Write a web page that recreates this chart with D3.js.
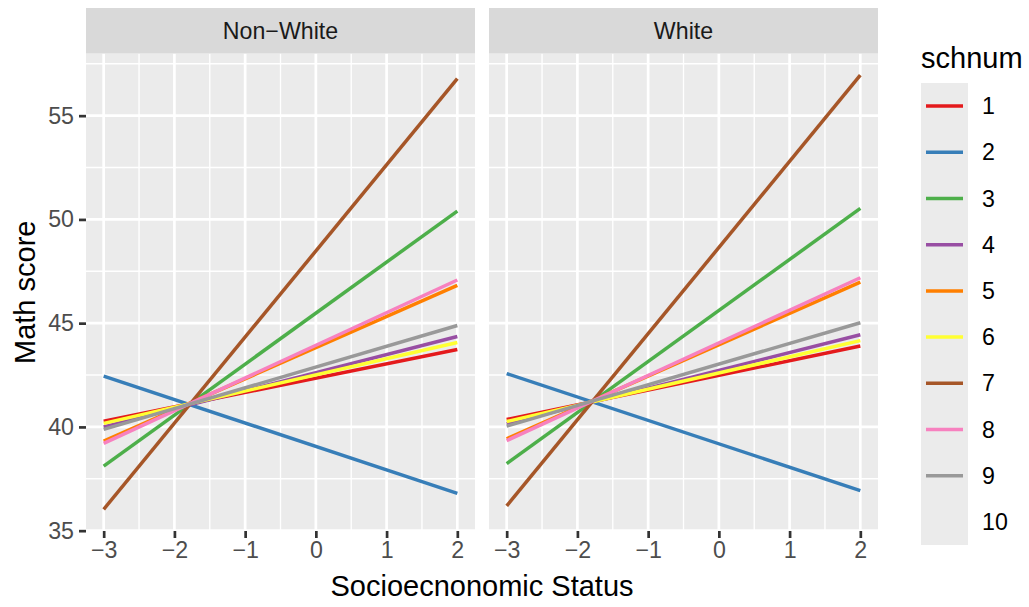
<!DOCTYPE html>
<html>
<meta charset="utf-8">
<title>Math score by SES</title>
<head>
  <script src="https://cdnjs.cloudflare.com/ajax/libs/d3/7.8.5/d3.min.js"></script>
  <style>
    body { margin: 0; background: #fff; }
    text { font-family: "Liberation Sans", Arial, sans-serif; }
  </style>
</head>
<body>
<script>
  // data: fitted value at ses = -3 and ses = 2
  var schools = ['1', '2', '3', '4', '5', '6', '7', '8', '9', '10'];
  var palette = ['#E41A1C', '#377EB8', '#4DAF4A', '#984EA3', '#FF7F00', '#FFFF33', '#A65628', '#F781BF', '#999999'];
  var panels = ['Non\u2212White', 'White'];
  var sesRange = [-3, 2];
  var nonWhiteLow  = [40.28, 42.45, 38.11, 40.00, 39.32, 40.17, 36.03, 39.21, 39.88];
  var nonWhiteHigh = [43.73, 36.80, 50.40, 44.36, 46.82, 44.07, 56.78, 47.08, 44.89];
  var whiteLow     = [40.36, 42.57, 38.23, 40.15, 39.43, 40.26, 36.19, 39.34, 40.04];
  var whiteHigh    = [43.90, 36.93, 50.53, 44.44, 46.98, 44.16, 56.95, 47.19, 45.02];
  var yTicks = [35, 40, 45, 50, 55];
  var xTicks = [-3, -2, -1, 0, 1, 2];

  var W = 1029, H = 607;
  var plotTop = 53.5, plotBottom = 531;
  var panelX = [[86, 475], [489, 878]];
  var smallFont = 23.2, bigFont = 29;

  var svg = d3.select('body').append('svg')
      .attr('width', W)
      .attr('height', H);

  var lows = [nonWhiteLow, whiteLow], highs = [nonWhiteHigh, whiteHigh];
  var allVals = [].concat(nonWhiteLow, nonWhiteHigh, whiteLow, whiteHigh);
  var ymin = d3.min(allVals), ymax = d3.max(allVals);
  var ypad = (ymax - ymin) * 0.05;
  var y = d3.scaleLinear().domain([ymin - ypad, ymax + ypad]).range([plotBottom, plotTop]);
  var xpad = (sesRange[1] - sesRange[0]) * 0.05;

  var fmt = d3.format('d');

  panels.forEach(function(name, p) {
    var x = d3.scaleLinear()
        .domain([sesRange[0] - xpad, sesRange[1] + xpad])
        .range(panelX[p]);
    var g = svg.append('g');
    var x0 = panelX[p][0], x1 = panelX[p][1];

    g.append('rect')
      .attr('x', x0).attr('y', plotTop)
      .attr('width', x1 - x0).attr('height', plotBottom - plotTop)
      .attr('fill', '#EBEBEB');

    // minor grid
    var xMinor = [-2.5, -1.5, -0.5, 0.5, 1.5];
    var yMinor = [37.5, 42.5, 47.5, 52.5, 57.5];
    g.selectAll('.xminor').data(xMinor).enter().append('line')
      .attr('x1', x).attr('x2', x).attr('y1', plotTop).attr('y2', plotBottom)
      .attr('stroke', '#fff').attr('stroke-width', 1.35);
    g.selectAll('.yminor').data(yMinor.filter(function(v) { return y(v) > plotTop; })).enter().append('line')
      .attr('x1', x0).attr('x2', x1).attr('y1', y).attr('y2', y)
      .attr('stroke', '#fff').attr('stroke-width', 1.35);
    // major grid
    g.selectAll('.xmajor').data(xTicks).enter().append('line')
      .attr('x1', x).attr('x2', x).attr('y1', plotTop).attr('y2', plotBottom)
      .attr('stroke', '#fff').attr('stroke-width', 2.7);
    g.selectAll('.ymajor').data(yTicks).enter().append('line')
      .attr('x1', x0).attr('x2', x1).attr('y1', y).attr('y2', y)
      .attr('stroke', '#fff').attr('stroke-width', 2.7);

    // strip
    g.append('rect')
      .attr('x', x0).attr('y', 8)
      .attr('width', x1 - x0).attr('height', plotTop - 8)
      .attr('fill', '#D9D9D9');
    g.append('text')
      .attr('x', (x0 + x1) / 2).attr('y', 39)
      .attr('text-anchor', 'middle')
      .attr('font-size', smallFont)
      .attr('fill', '#1A1A1A')
      .text(name);

    // school lines
    var line = d3.line()
      .x(function(d) { return x(d[0]); })
      .y(function(d) { return y(d[1]); });
    palette.forEach(function(col, i) {
      g.append('path')
        .attr('d', line([[sesRange[0], lows[p][i]], [sesRange[1], highs[p][i]]]))
        .attr('stroke', col)
        .attr('stroke-width', 3.5)
        .attr('fill', 'none');
    });

    // x axis
    var xAxis = svg.append('g')
      .attr('transform', 'translate(0,' + plotBottom + ')')
      .call(d3.axisBottom(x).tickValues(xTicks).tickFormat(fmt).tickSizeOuter(0).tickSize(7).tickPadding(4));
    xAxis.select('.domain').remove();
    xAxis.selectAll('line').attr('stroke', '#333333').attr('stroke-width', 2.7);
    xAxis.selectAll('text').attr('font-size', smallFont).attr('fill', '#4D4D4D')
      .attr('font-family', '"Liberation Sans", Arial, sans-serif');

    if (p === 0) {
      var yAxis = svg.append('g')
        .attr('transform', 'translate(' + x0 + ',0)')
        .call(d3.axisLeft(y).tickValues(yTicks).tickFormat(fmt).tickSizeOuter(0).tickSize(7).tickPadding(5));
      yAxis.select('.domain').remove();
      yAxis.selectAll('line').attr('stroke', '#333333').attr('stroke-width', 2.7);
      yAxis.selectAll('text').attr('font-size', smallFont).attr('fill', '#4D4D4D')
        .attr('font-family', '"Liberation Sans", Arial, sans-serif');
    }
  });

  // axis titles
  svg.append('text')
    .attr('x', (panelX[0][0] + panelX[1][1]) / 2).attr('y', 596)
    .attr('text-anchor', 'middle')
    .attr('font-size', bigFont)
    .text('Socioecnonomic Status');
  svg.append('text')
    .attr('transform', 'translate(35,' + (plotTop + plotBottom) / 2 + ') rotate(-90)')
    .attr('text-anchor', 'middle')
    .attr('font-size', bigFont)
    .text('Math score');

  // legend
  var legX = 921, legTop = 83, keyH = 46.2, keyW = 47;
  var leg = svg.append('g');
  leg.append('text')
    .attr('x', legX).attr('y', 68)
    .attr('font-size', bigFont)
    .text('schnum');
  leg.append('rect')
    .attr('x', legX).attr('y', legTop)
    .attr('width', keyW).attr('height', keyH * schools.length)
    .attr('fill', '#EBEBEB');
  schools.forEach(function(s, i) {
    var cy = legTop + keyH * (i + 0.5);
    if (palette[i]) {
      leg.append('line')
        .attr('x1', legX + 5).attr('x2', legX + keyW - 5)
        .attr('y1', cy).attr('y2', cy)
        .attr('stroke', palette[i])
        .attr('stroke-width', 3.5);
    }
    leg.append('text')
      .attr('x', legX + keyW + 14).attr('y', cy + 8)
      .attr('font-size', smallFont)
      .text(s);
  });
</script>
</body>
</html>
